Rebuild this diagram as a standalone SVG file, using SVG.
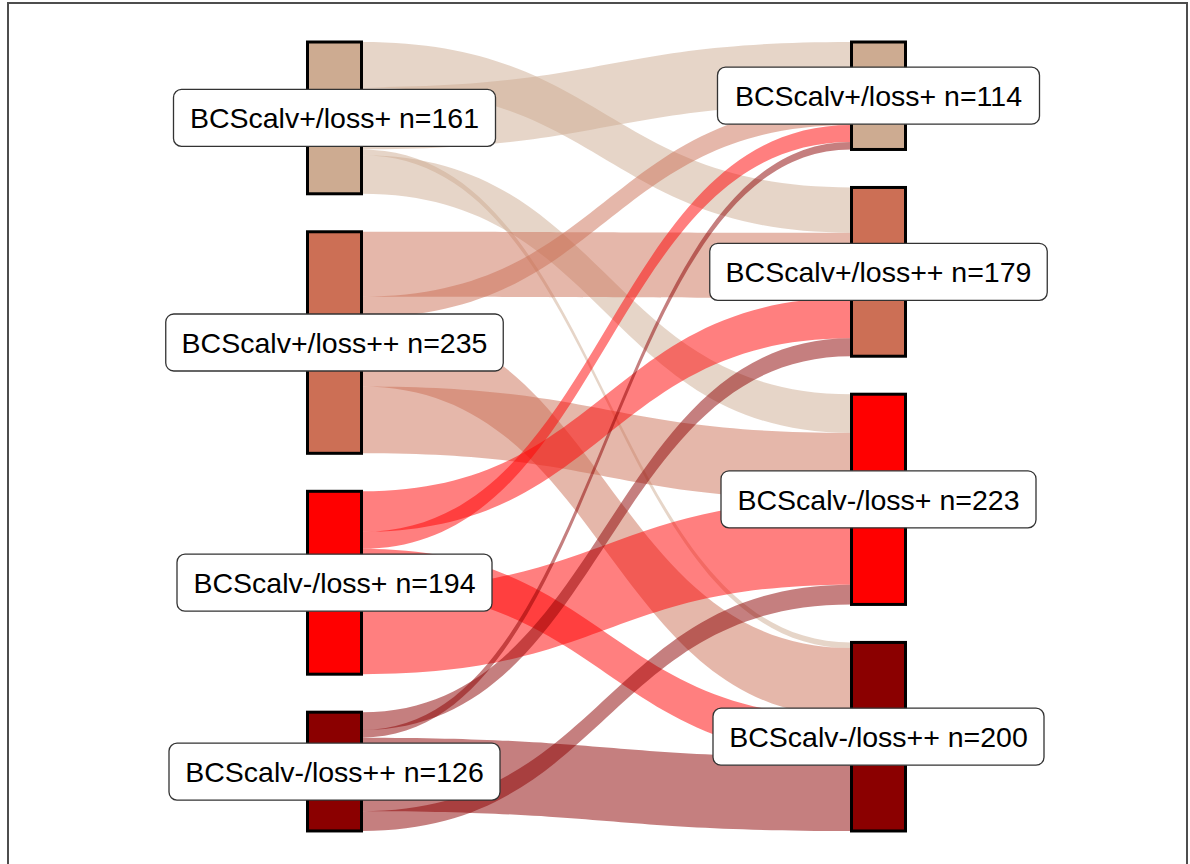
<svg xmlns="http://www.w3.org/2000/svg" width="1190" height="864" viewBox="0 0 1190 864">
<style>
.f1{fill:#CDAB91;fill-opacity:0.5}
.f2{fill:#CC6F55;fill-opacity:0.5}
.f3{fill:#FF0000;fill-opacity:0.5}
.f4{fill:#8B0000;fill-opacity:0.5}
.st{stroke:#000;stroke-width:3}
.lb{fill:#fff;stroke:#333;stroke-width:1.3}
.tx{font-family:"Liberation Sans",Arial,sans-serif;font-size:28.5px;fill:#000;text-anchor:middle}
</style>
<rect x="0" y="0" width="1190" height="864" fill="#fff"/>
<rect x="8" y="3" width="1179" height="880" fill="none" stroke="#4d4d4d" stroke-width="2"/>
<g id="connectors">
<path class="f1" d="M362 42C606.5 42 606.5 187.47 851 187.47L851 232.72C606.5 232.72 606.5 87.25 362 87.25Z"/>
<path class="f1" d="M362 87.25C606.5 87.25 606.5 42 851 42L851 104.22C606.5 104.22 606.5 149.47 362 149.47Z"/>
<path class="f1" d="M362 149.47C606.5 149.47 606.5 642.43 851 642.43L851 648.09C606.5 648.09 606.5 155.13 362 155.13Z"/>
<path class="f1" d="M362 155.13C606.5 155.13 606.5 394.21 851 394.21L851 432.86C606.5 432.86 606.5 193.78 362 193.78Z"/>
<path class="f2" d="M362 231.77C606.5 231.77 606.5 232.72 851 232.72L851 297.77C606.5 297.77 606.5 296.82 362 296.82Z"/>
<path class="f2" d="M362 296.82C606.5 296.82 606.5 104.22 851 104.22L851 124.96C606.5 124.96 606.5 317.56 362 317.56Z"/>
<path class="f2" d="M362 317.56C606.5 317.56 606.5 648.09 851 648.09L851 716.91C606.5 716.91 606.5 386.38 362 386.38Z"/>
<path class="f2" d="M362 386.38C606.5 386.38 606.5 432.86 851 432.86L851 499.79C606.5 499.79 606.5 453.31 362 453.31Z"/>
<path class="f3" d="M362 491.3C606.5 491.3 606.5 297.77 851 297.77L851 338.31C606.5 338.31 606.5 531.84 362 531.84Z"/>
<path class="f3" d="M362 531.84C606.5 531.84 606.5 124.96 851 124.96L851 141.93C606.5 141.93 606.5 548.81 362 548.81Z"/>
<path class="f3" d="M362 548.81C606.5 548.81 606.5 716.91 851 716.91L851 757.45C606.5 757.45 606.5 589.35 362 589.35Z"/>
<path class="f3" d="M362 589.35C606.5 589.35 606.5 499.79 851 499.79L851 584.63C606.5 584.63 606.5 674.19 362 674.19Z"/>
<path class="f4" d="M362 712.18C606.5 712.18 606.5 338.31 851 338.31L851 356.22C606.5 356.22 606.5 730.09 362 730.09Z"/>
<path class="f4" d="M362 730.09C606.5 730.09 606.5 141.93 851 141.93L851 149.47C606.5 149.47 606.5 737.63 362 737.63Z"/>
<path class="f4" d="M362 737.63C606.5 737.63 606.5 757.45 851 757.45L851 830.98C606.5 830.98 606.5 811.16 362 811.16Z"/>
<path class="f4" d="M362 811.16C606.5 811.16 606.5 584.63 851 584.63L851 604.43C606.5 604.43 606.5 830.96 362 830.96Z"/>
</g>
<g id="L1"><rect class="st" x="307.5" y="42" width="54" height="151.78" fill="#CDAB91"/><rect class="lb" x="173.5" y="89.4" width="322" height="57" rx="8"/><text class="tx" x="334.5" y="128.1">BCScalv+/loss+ n=161</text></g>
<g id="L2"><rect class="st" x="307.5" y="231.77" width="54" height="221.54" fill="#CC6F55"/><rect class="lb" x="165.75" y="314" width="337.5" height="57" rx="8"/><text class="tx" x="334.5" y="352.7">BCScalv+/loss++ n=235</text></g>
<g id="L3"><rect class="st" x="307.5" y="491.3" width="54" height="182.89" fill="#FF0000"/><rect class="lb" x="177" y="554.2" width="315" height="57" rx="8"/><text class="tx" x="334.5" y="592.9">BCScalv-/loss+ n=194</text></g>
<g id="L4"><rect class="st" x="307.5" y="712.18" width="54" height="118.78" fill="#8B0000"/><rect class="lb" x="169" y="743.1" width="331" height="57" rx="8"/><text class="tx" x="334.5" y="781.8">BCScalv-/loss++ n=126</text></g>
<g id="R1"><rect class="st" x="851.5" y="42" width="54" height="107.47" fill="#CDAB91"/><rect class="lb" x="717.5" y="67.2" width="322" height="57" rx="8"/><text class="tx" x="878.5" y="105.9">BCScalv+/loss+ n=114</text></g>
<g id="R2"><rect class="st" x="851.5" y="187.47" width="54" height="168.75" fill="#CC6F55"/><rect class="lb" x="709.75" y="243.3" width="337.5" height="57" rx="8"/><text class="tx" x="878.5" y="282">BCScalv+/loss++ n=179</text></g>
<g id="R3"><rect class="st" x="851.5" y="394.21" width="54" height="210.22" fill="#FF0000"/><rect class="lb" x="721" y="470.8" width="315" height="57" rx="8"/><text class="tx" x="878.5" y="509.5">BCScalv-/loss+ n=223</text></g>
<g id="R4"><rect class="st" x="851.5" y="642.43" width="54" height="188.55" fill="#8B0000"/><rect class="lb" x="713" y="708.2" width="331" height="57" rx="8"/><text class="tx" x="878.5" y="746.9">BCScalv-/loss++ n=200</text></g>
</svg>
